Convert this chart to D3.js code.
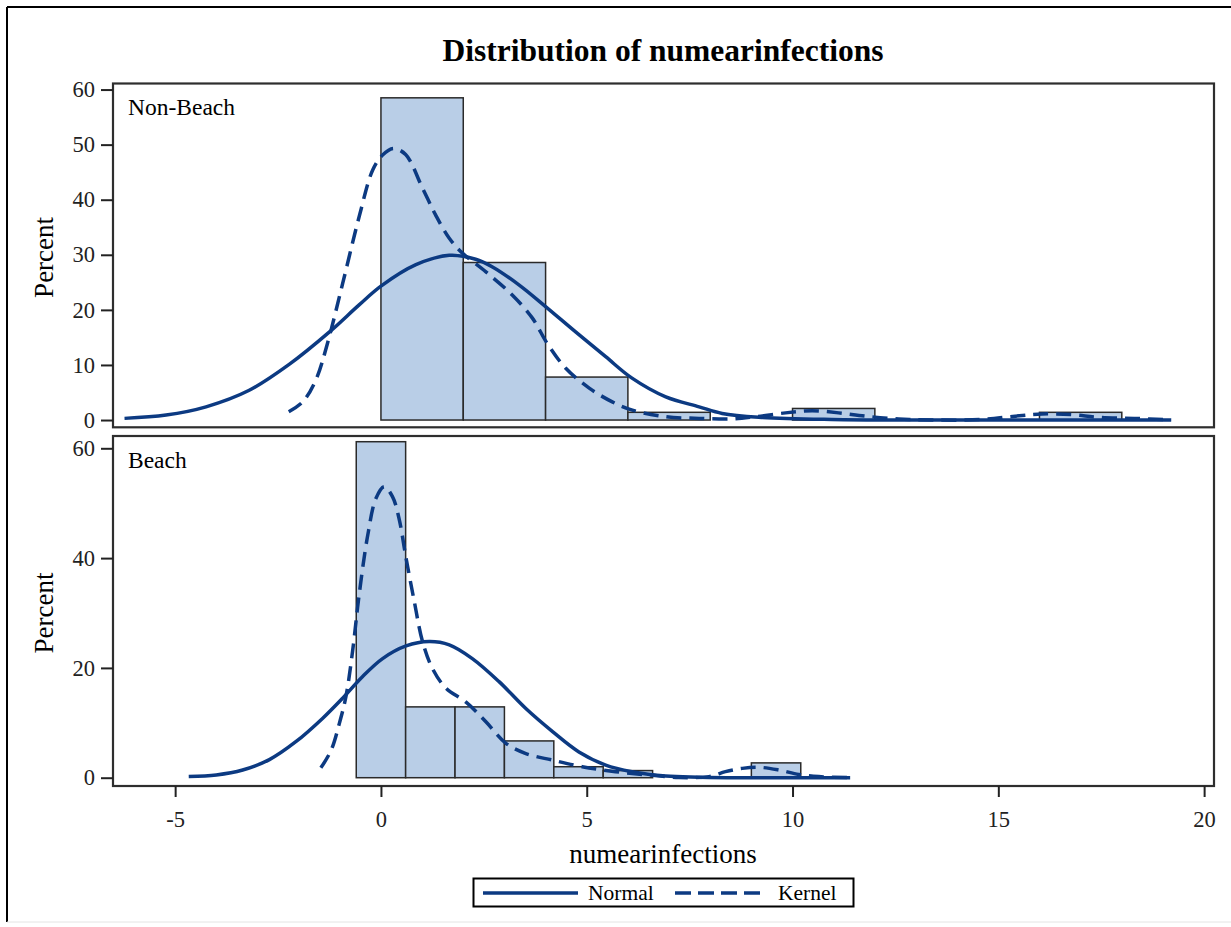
<!DOCTYPE html>
<html>
<head>
<meta charset="utf-8">
<script src="https://cdn.jsdelivr.net/npm/d3@7"></script>
<style>
    body { margin: 0; background: #fff; }
    .axis text { font-family: "Liberation Serif", "Times New Roman", serif; fill: #222; }
</style>
</head>
<body>
<div class="hist-container"></div>
<script>
// ---- data ----
const xTicks = [-5, 0, 5, 10, 15, 20];
const topYTicks = [0, 10, 20, 30, 40, 50, 60];
const bottomYTicks = [0, 20, 40, 60];

// Non-Beach histogram (bin width 2)
const nonBeachBinStart = [0, 2, 4, 6, 8, 10, 16];
const nonBeachPct = [58.5, 28.6, 7.8, 1.4, 0, 2.1, 1.4];
const nonBeachBinWidth = 2;

// Beach histogram (bin width 1.2)
const beachBinStart = [-0.6, 0.6, 1.8, 3.0, 4.2, 5.4, 9.0];
const beachPct = [61.2, 12.9, 12.9, 6.7, 2.0, 1.3, 2.7];
const beachBinWidth = 1.2;

// density curves, [x, percent]
const nonBeachNormal = [[-6.23,0.3],[-5.22,0.9],[-4.25,2.4],[-3.2,5.4],[-2.23,10.1],[-1.25,16.0],[-0.53,20.9],[0,24.3],
    [0.85,28.2],[1.66,29.9],[2.3,29.2],[2.71,27.8],[3.36,24.5],[4.0,20.6],[4.73,16.0],[5.46,11.5],[6.1,7.6],
    [6.92,4.2],[7.73,2.4],[8.29,1.2],[9.18,0.5],[10.95,0.1],[13,0],[19.2,0]];
const nonBeachKernel = [[-2.24,1.5],[-1.9,3.3],[-1.58,7.3],[-1.3,13.9],[-0.93,24.8],[-0.53,36.9],[-0.2,45.4],[0.04,48.1],
    [0.3,49.3],[0.6,48.2],[1.01,42.1],[1.33,37.2],[1.66,33.0],[1.98,30.3],[2.55,26.9],[3.19,22.7],[3.68,18.5],
    [4.04,13.9],[4.49,9.4],[5.06,5.8],[5.62,3.3],[6.11,1.8],[6.92,0.6],[7.73,0.3],[8.53,0.2],[9.1,0.6],[9.83,1.3],
    [10.48,1.7],[11.12,1.3],[11.77,0.7],[12.58,0.2],[13.4,0],[14.6,0.1],[15.41,0.7],[16.06,1.1],[16.79,1.0],
    [17.43,0.5],[18.3,0.3],[19.2,0.05]];
const beachNormal = [[-4.67,0.2],[-4.0,0.5],[-3.36,1.4],[-2.71,3.3],[-2.06,6.6],[-1.42,10.8],[-0.93,14.5],[-0.45,18.4],
    [0.04,21.7],[0.61,24.0],[1.17,24.8],[1.66,24.2],[2.22,21.7],[2.87,17.5],[3.52,12.6],[4.17,8.4],[4.81,4.7],
    [5.46,2.3],[6.1,1.1],[6.92,0.3],[7.73,0.1],[9,0],[11.4,0]];
const beachKernel = [[-1.46,1.8],[-1.21,5.0],[-1.01,9.9],[-0.85,14.8],[-0.69,23.0],[-0.53,33.3],[-0.32,44.2],[-0.12,50.9],
    [0.08,53.0],[0.28,51.2],[0.44,47.2],[0.61,40.0],[0.81,32.1],[1.01,24.8],[1.25,19.9],[1.58,16.3],[2.06,13.8],
    [2.55,10.2],[3.03,6.3],[3.52,4.4],[4.17,3.2],[4.89,2.0],[5.7,1.1],[6.5,0.5],[7.24,0.05],[7.97,0.2],[8.37,1.1],
    [8.78,1.7],[9.18,1.9],[9.67,1.4],[10.15,0.6],[10.64,0.2],[11.43,0]];

const width = 1231;
const height = 927;
const serif = '"Liberation Serif", "Times New Roman", serif';
const barFill = "#b9cee7";
const curveColor = "#0c3a82";

let svg = d3.select(".hist-container").append("svg")
    .attr("width", width)
    .attr("height", height);

// outer border (left / top dark, bottom faint)
svg.append("line").attr("x1", 7).attr("y1", 7).attr("x2", 7).attr("y2", 922).attr("stroke", "#000").attr("stroke-width", 2);
svg.append("line").attr("x1", 7).attr("y1", 7).attr("x2", width).attr("y2", 7).attr("stroke", "#000").attr("stroke-width", 2);
svg.append("line").attr("x1", 7).attr("y1", 922).attr("x2", width).attr("y2", 922).attr("stroke", "#e4e4e4").attr("stroke-width", 1);

svg.append("text")
    .attr("x", 663).attr("y", 61)
    .attr("text-anchor", "middle")
    .style("font-family", serif).style("font-weight", "bold").style("font-size", "31.5px")
    .text("Distribution of numearinfections");

// shared x scale
const left = 113, right = 1214;
let xScale = d3.scaleLinear().domain([-6.51, 20.24]).range([left, right]);

const panels = [
    { label: "Non-Beach", top: 83.5, bottom: 427.3, yDomain: [-1.32, 61.1], ticks: topYTicks,
      binStart: nonBeachBinStart, pct: nonBeachPct, binWidth: nonBeachBinWidth, normal: nonBeachNormal, kernel: nonBeachKernel },
    { label: "Beach", top: 436, bottom: 786, yDomain: [-1.51, 62.24], ticks: bottomYTicks,
      binStart: beachBinStart, pct: beachPct, binWidth: beachBinWidth, normal: beachNormal, kernel: beachKernel }
];

panels.forEach(p => {
    let yScale = d3.scaleLinear().domain(p.yDomain).range([p.bottom, p.top]);
    let g = svg.append("g");

    // bars
    let bins = p.binStart.map((s, i) => ({ start: s, pct: p.pct[i] }));
    g.selectAll("rect.bar")
        .data(bins)
        .enter()
        .append("rect")
        .attr("class", "bar")
        .attr("x", d => xScale(d.start))
        .attr("width", d => xScale(d.start + p.binWidth) - xScale(d.start))
        .attr("y", d => yScale(d.pct))
        .attr("height", d => yScale(0) - yScale(d.pct))
        .attr("fill", barFill)
        .attr("stroke", "#2a2a2a")
        .attr("stroke-width", 1.5);

    // normal (solid) and kernel (dashed) curves
    let line = d3.line()
        .x(d => xScale(d[0]))
        .y(d => yScale(d[1]))
        .curve(d3.curveCatmullRom.alpha(0.5));
    g.append("path").datum(p.normal)
        .attr("d", line).attr("fill", "none")
        .attr("stroke", curveColor).attr("stroke-width", 3.5);
    g.append("path").datum(p.kernel)
        .attr("d", line).attr("fill", "none")
        .attr("stroke", curveColor).attr("stroke-width", 3.5)
        .attr("stroke-dasharray", "15,8");

    // frame
    g.append("rect")
        .attr("x", left).attr("y", p.top)
        .attr("width", right - left).attr("height", p.bottom - p.top)
        .attr("fill", "none").attr("stroke", "#2e2e2e").attr("stroke-width", 2.2);

    // y axis
    let yAxis = d3.axisLeft(yScale).tickValues(p.ticks).tickSize(12).tickPadding(6);
    let ya = svg.append("g")
        .attr("class", "axis")
        .attr("transform", "translate(" + left + ",0)")
        .call(yAxis);
    ya.select(".domain").remove();
    ya.selectAll("line").attr("stroke", "#222").attr("stroke-width", 2);
    ya.selectAll("text").style("font-size", "22.5px");

    // panel label + y title
    svg.append("text")
        .attr("x", 128).attr("y", p.top + 31.5)
        .style("font-family", serif).style("font-size", "23.5px")
        .text(p.label);
    svg.append("text")
        .attr("text-anchor", "middle")
        .attr("transform", "translate(53," + ((p.top + p.bottom) / 2 + 2) + ")rotate(-90)")
        .style("font-family", serif).style("font-size", "27px")
        .text("Percent");
});

// x axis under the bottom panel (plain hyphen for negatives, like the original)
let xAxis = d3.axisBottom(xScale).tickValues(xTicks).tickSize(11).tickFormat(d => String(d));
let xa = svg.append("g")
    .attr("class", "axis")
    .attr("transform", "translate(0,786)")
    .call(xAxis);
xa.select(".domain").remove();
xa.selectAll("line").attr("stroke", "#222").attr("stroke-width", 2);
xa.selectAll("text").attr("y", 40.7).attr("dy", null).style("font-size", "22.5px");

svg.append("text")
    .attr("x", 663).attr("y", 863)
    .attr("text-anchor", "middle")
    .style("font-family", serif).style("font-size", "27px")
    .text("numearinfections");

// legend
let legend = svg.append("g");
legend.append("rect")
    .attr("x", 473.5).attr("y", 878.5).attr("width", 380).attr("height", 28)
    .attr("fill", "#fff").attr("stroke", "#000").attr("stroke-width", 2);
legend.append("line")
    .attr("x1", 483).attr("x2", 578).attr("y1", 893).attr("y2", 893)
    .attr("stroke", curveColor).attr("stroke-width", 3.5);
legend.append("text")
    .attr("x", 588).attr("y", 900)
    .style("font-family", serif).style("font-size", "21.5px")
    .text("Normal");
legend.append("line")
    .attr("x1", 675).attr("x2", 760).attr("y1", 893).attr("y2", 893)
    .attr("stroke", curveColor).attr("stroke-width", 3.5)
    .attr("stroke-dasharray", "16,7");
legend.append("text")
    .attr("x", 778).attr("y", 900)
    .style("font-family", serif).style("font-size", "21.5px")
    .text("Kernel");
</script>
</body>
</html>
